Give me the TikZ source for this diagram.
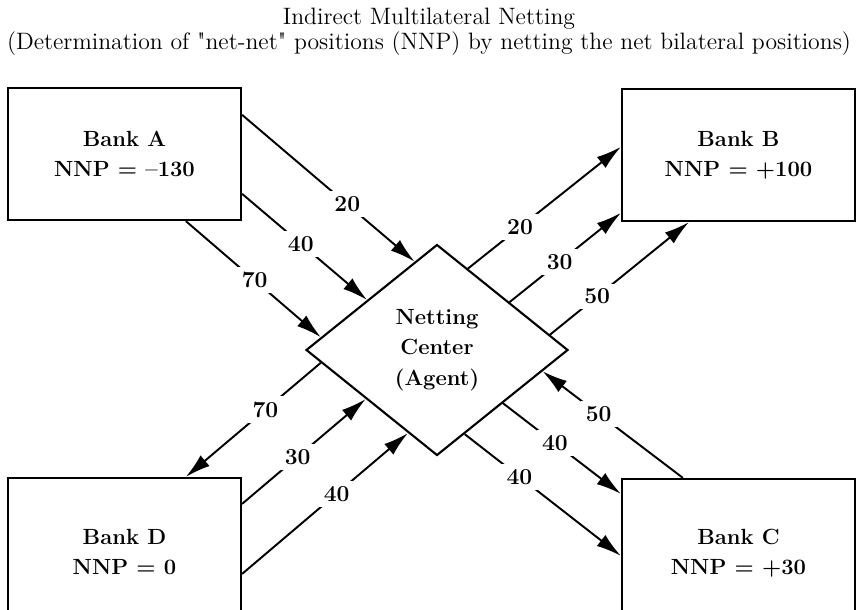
\documentclass[tikz,border=0pt]{standalone}
\usepackage{tikz}
\usetikzlibrary{shapes.geometric,arrows.meta,calc}

\begin{document}
\begin{tikzpicture}[x=0.02cm,y=-0.02cm]
            \tikzstyle{every node}=[font=\fontsize{13.5}{14}\selectfont]
            \tikzstyle{bank}=[draw,line width=1.3pt,minimum width=4.66cm,minimum height=2.64cm,align=center,font=\fontsize{12.5}{17}\selectfont\bfseries]
            \tikzstyle{agent}=[draw,diamond,line width=1.2pt,minimum width=5.24cm,minimum height=4.22cm,align=center,font=\fontsize{12.5}{17.5}\selectfont\bfseries]
            \tikzstyle{flow}=[line width=1.1pt,-{Latex[length=0.5cm,width=0.28cm]}]
            \tikzstyle{amt}=[fill=white,inner sep=3pt,font=\fontsize{13}{14}\selectfont\bfseries]
            \useasboundingbox (0,0) rectangle (862,609);
            \node (title) at (429,32) [align=center] {Indirect Multilateral Netting\\(Determination of \textquotedbl net-net\textquotedbl{} positions (NNP) by netting the net bilateral positions)};
            \node [bank] (A) at (124.5,154) {Bank A\\NNP = --130};
            \node [bank] (B) at (738.5,155) {Bank B\\NNP = +100};
            \node [bank,minimum height=2.96cm] (C) at (738.5,553) {Bank C\\NNP = +30};
            \node [bank,minimum height=2.96cm] (D) at (124.5,552) {Bank D\\NNP = 0};
            \node [agent] (nc) at (437,350) {Netting\\Center\\(Agent)};
            \draw[flow] ($(A.north east)+(0,28)$) -- node[amt,pos=0.61] {20} ($(nc.north)!0.17!(nc.west)$);
            \draw[flow] ($(A.north east)+(0,107)$) -- node[amt,pos=0.47] {40} ($(nc.north)!0.53!(nc.west)$);
            \draw[flow] ($(A.south west)+(179,0)$) -- node[amt,pos=0.51] {70} ($(nc.north)!0.88!(nc.west)$);
            \draw[flow] ($(nc.north)!0.235!(nc.east)$) -- node[amt,pos=0.34] {20} ($(B.north west)+(0,59)$);
            \draw[flow] ($(nc.north)!0.55!(nc.east)$) -- node[amt,pos=0.45] {30} ($(B.north west)+(0,125)$);
            \draw[flow] ($(nc.north)!0.856!(nc.east)$) -- node[amt,pos=0.34] {50} ($(B.south west)+(68,0)$);
            \draw[flow] ($(C.north west)+(62,0)$) -- node[amt,pos=0.6] {50} ($(nc.east)!0.2!(nc.south)$);
            \draw[flow] ($(nc.east)!0.5!(nc.south)$) -- node[amt,pos=0.44] {40} ($(C.north west)+(0,16)$);
            \draw[flow] ($(nc.east)!0.79!(nc.south)$) -- node[amt,pos=0.35] {40} ($(C.north west)+(0,78)$);
            \draw[flow] ($(nc.west)!0.12!(nc.south)$) -- node[amt,pos=0.41] {70} ($(D.north west)+(179,0)$);
            \draw[flow] ($(D.north east)+(0,27)$) -- node[amt,pos=0.45] {30} ($(nc.west)!0.46!(nc.south)$);
            \draw[flow] ($(D.north east)+(0,97)$) -- node[amt,pos=0.57] {40} ($(nc.west)!0.78!(nc.south)$);
        \end{tikzpicture}
\end{document}
